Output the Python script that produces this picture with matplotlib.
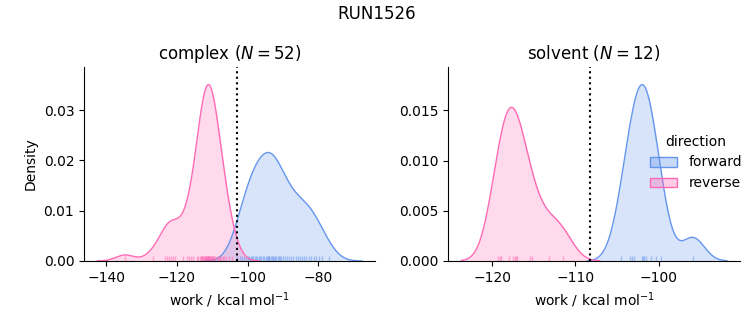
import numpy as np
import matplotlib
matplotlib.use("Agg")
import matplotlib.pyplot as plt
from matplotlib.patches import Patch
from matplotlib.colors import to_rgba

# work values (kcal/mol)
complex_forward = [
    -103.0, -102.2, -101.6, -101.0, -100.5, -100.0,
    -99.5, -99.1, -98.7, -98.4, -98.0, -97.6, -97.2, -96.8, -96.5, -96.1,
    -95.7, -95.3, -94.9, -94.6, -94.2, -94.0, -93.8, -93.4, -93.0, -92.7,
    -92.5, -92.3, -91.9, -91.5, -91.1, -90.8, -90.4, -90.0,
    -89.4, -88.8, -88.2, -87.6, -87.0, -86.4, -85.8, -85.2, -84.6, -84.0,
    -83.4, -82.7, -82.0, -81.3, -80.6, -79.8, -79.0, -76.8,
]
complex_reverse = [
    -134.7, -126.7, -123.4, -122.9, -122.4, -121.8, -121.0, -120.6,
    -118.2, -117.3, -116.5, -115.9, -115.4,
    -114.4, -114.0, -113.6, -113.3, -113.0, -112.9, -112.8, -112.5, -112.3,
    -112.1, -112.0, -111.9, -111.7, -111.6, -111.5, -111.3, -111.2, -111.1,
    -110.9, -110.8, -110.7, -110.5, -110.4, -110.3, -110.1, -109.9, -109.7,
    -109.4, -109.1, -108.8, -108.5, -108.2, -107.9, -107.5, -107.1, -106.6,
    -106.0, -105.3, -104.5,
]
solvent_forward = [
    -104.5, -103.5, -103.2, -103.0, -102.0, -101.9, -101.8, -101.6,
    -101.0, -100.4, -99.8, -95.9,
]
solvent_reverse = [
    -119.3, -119.1, -118.9, -118.0, -117.5, -117.25, -117.15, -117.0,
    -115.4, -115.2, -113.2, -111.5,
]
# dotted reference lines (free energy estimate)
complex_dg = -102.9
solvent_dg = -108.2

run_name = "RUN1526"
directions = ["forward", "reverse"]
colors = {"forward": "cornflowerblue", "reverse": "hotpink"}

total = len(complex_forward) + len(complex_reverse) + len(solvent_forward) + len(solvent_reverse)


def kde(values, total):
    # gaussian kde with scott's rule, cut=3, normalised over the whole dataset
    x = np.asarray(values)
    n = len(x)
    bw = x.std(ddof=1) * n ** (-0.2)
    grid = np.linspace(x.min() - 3 * bw, x.max() + 3 * bw, 200)
    dens = np.exp(-0.5 * ((grid[:, None] - x[None, :]) / bw) ** 2).sum(1)
    dens = dens / (n * bw * np.sqrt(2 * np.pi))
    return grid, dens * n / total


fig = plt.figure(figsize=(7.53, 3.25), dpi=100)
ax1 = fig.add_axes([0.1116, 0.197, 0.3864, 0.597])
ax2 = fig.add_axes([0.595, 0.197, 0.388, 0.597])

panels = [
    (ax1, "complex", {"forward": complex_forward, "reverse": complex_reverse}, complex_dg),
    (ax2, "solvent", {"forward": solvent_forward, "reverse": solvent_reverse}, solvent_dg),
]

for ax, phase, data, dg in panels:
    for d in directions:
        grid, dens = kde(data[d], total)
        ax.fill_between(grid, dens, color=colors[d], alpha=0.25, linewidth=0)
        ax.plot(grid, dens, color=colors[d], lw=1.0)
        ax.vlines(data[d], 0, 0.025, color=colors[d], lw=1, alpha=0.5,
                  transform=ax.get_xaxis_transform())
    ax.axvline(dg, color="black", ls=":", lw=1.5)
    ax.margins(x=0.05, y=0.1)
    ax.autoscale_view()
    ax.set_ylim(bottom=0)
    n = len(data["forward"])
    ax.set_title(f"{phase} ($N = {n}$)", fontsize=12)
    ax.set_xlabel("work / kcal mol$^{-1}$")
    ax.spines["top"].set_visible(False)
    ax.spines["right"].set_visible(False)

ax1.set_ylabel("Density")

handles = [Patch(facecolor=to_rgba(colors[d], 0.35), edgecolor=colors[d], label=d)
           for d in directions]
fig.legend(handles=handles, title="direction", loc="center left",
           bbox_to_anchor=(0.846, 0.5), frameon=False)

fig.suptitle(run_name, fontsize=12, y=0.985)

fig.savefig("out.png", dpi=100)
